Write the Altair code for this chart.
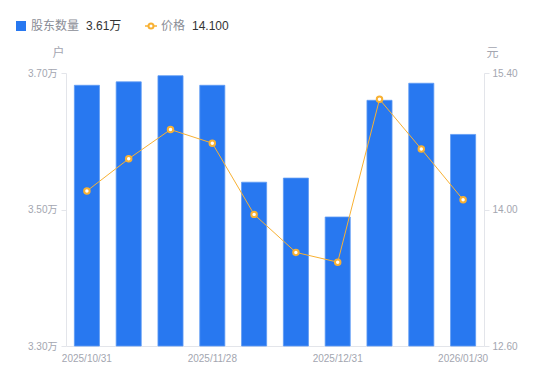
import altair as alt
import pandas as pd

dates = ["2025/10/31", "2025/11/10", "2025/11/20", "2025/11/28", "2025/12/10",
         "2025/12/20", "2025/12/31", "2026/01/09", "2026/01/20", "2026/01/30"]
holders = [3.682, 3.687, 3.696, 3.682, 3.540, 3.546, 3.489, 3.660, 3.685, 3.610]
prices = [14.19, 14.52, 14.82, 14.68, 13.95, 13.56, 13.46, 15.13, 14.62, 14.10]
shown_dates = ["2025/10/31", "2025/11/28", "2025/12/31", "2026/01/30"]

df = pd.DataFrame({"date": dates, "holders": holders, "price": prices})

BLUE = "#2878F0"
ORANGE = "#F8B133"
GRAY = "#A3A6B0"
FONT = "Liberation Sans, Noto Sans CJK SC"
LEG_Y = -47

x = alt.X("date:O", sort=dates,
          scale=alt.Scale(paddingInner=0.4, paddingOuter=0.2),
          axis=alt.Axis(title=None, values=shown_dates, labelAngle=0, ticks=False,
                        labelColor=GRAY, labelFontSize=10, labelFont=FONT,
                        domainColor="#E3E5EA", labelPadding=7))

bars = alt.Chart(df).mark_bar(color=BLUE, stroke="#5E9AF4", strokeWidth=0.8).encode(
    x=x,
    y=alt.Y("holders:Q", scale=alt.Scale(domain=[3.3, 3.7], clamp=True, zero=False, nice=False),
            axis=alt.Axis(values=[3.3, 3.5, 3.7], labelExpr="format(datum.value,'.2f')+'万'",
                          grid=False, title="户", titleAngle=0, titleX=-8, titleY=-14,
                          titleAlign="center", titleFontWeight="normal", titleColor=GRAY,
                          titleFontSize=12, titleFont=FONT,
                          labelColor=GRAY, labelFontSize=10, labelFont=FONT, labelPadding=4,
                          domainColor="#E3E5EA", tickColor="#E3E5EA", tickSize=5))
)

line = alt.Chart(df).mark_line(color=ORANGE, strokeWidth=1).encode(
    x=x,
    y=alt.Y("price:Q", scale=alt.Scale(domain=[12.6, 15.4], zero=False, nice=False),
            axis=alt.Axis(values=[12.6, 14.0, 15.4], format=".2f", orient="right",
                          grid=False, title="元", titleAngle=0, titleX=8, titleY=-14,
                          titleAlign="center", titleFontWeight="normal", titleColor=GRAY,
                          titleFontSize=12, titleFont=FONT,
                          labelColor=GRAY, labelFontSize=10, labelFont=FONT, labelPadding=3,
                          domainColor="#E3E5EA", tickColor="#E3E5EA", tickSize=5))
)
pts = alt.Chart(df).mark_point(filled=True, fill="white", stroke=ORANGE, strokeWidth=2,
                               size=30, opacity=1).encode(x=x, y=alt.Y("price:Q"))

last = alt.Chart(df).transform_filter(alt.datum.date == dates[-1])
leg_sq = last.mark_square(color=BLUE, size=100, opacity=1, cornerRadius=2).encode(
    x=alt.value(-45), y=alt.value(LEG_Y))
leg_t1 = last.mark_text(text="股东数量", align="left", baseline="middle", fontSize=12,
                        color="#8A8D96", font=FONT).encode(x=alt.value(-35), y=alt.value(LEG_Y))
leg_v1 = last.transform_calculate(lbl="format(datum.holders,'.2f')+'万'").mark_text(
    align="left", baseline="middle", fontSize=12, color="#333333", font=FONT).encode(
    text="lbl:N", x=alt.value(20), y=alt.value(LEG_Y))
leg_ln = last.mark_rule(color=ORANGE, strokeWidth=1.5).encode(
    x=alt.value(79), x2=alt.value(91), y=alt.value(LEG_Y))
leg_pt = last.mark_point(filled=True, fill="white", stroke=ORANGE, strokeWidth=2, size=25,
                         opacity=1).encode(x=alt.value(85), y=alt.value(LEG_Y))
leg_t2 = last.mark_text(text="价格", align="left", baseline="middle", fontSize=12,
                        color="#8A8D96", font=FONT).encode(x=alt.value(95), y=alt.value(LEG_Y))
leg_v2 = last.transform_calculate(lbl="format(datum.price,'.3f')").mark_text(
    align="left", baseline="middle", fontSize=12, color="#333333", font=FONT).encode(
    text="lbl:N", x=alt.value(126), y=alt.value(LEG_Y))

chart = alt.layer(bars, line + pts, leg_sq, leg_t1, leg_v1, leg_ln, leg_pt, leg_t2, leg_v2
                  ).resolve_scale(y="independent").properties(
    width=418, height=273,
    autosize=alt.AutoSizeParams(type="none"),
    padding={"left": 58, "top": 65, "right": 50, "bottom": 30},
).configure_view(stroke=None)

chart.save("out.html", embed_options={"renderer": "svg", "actions": False})
